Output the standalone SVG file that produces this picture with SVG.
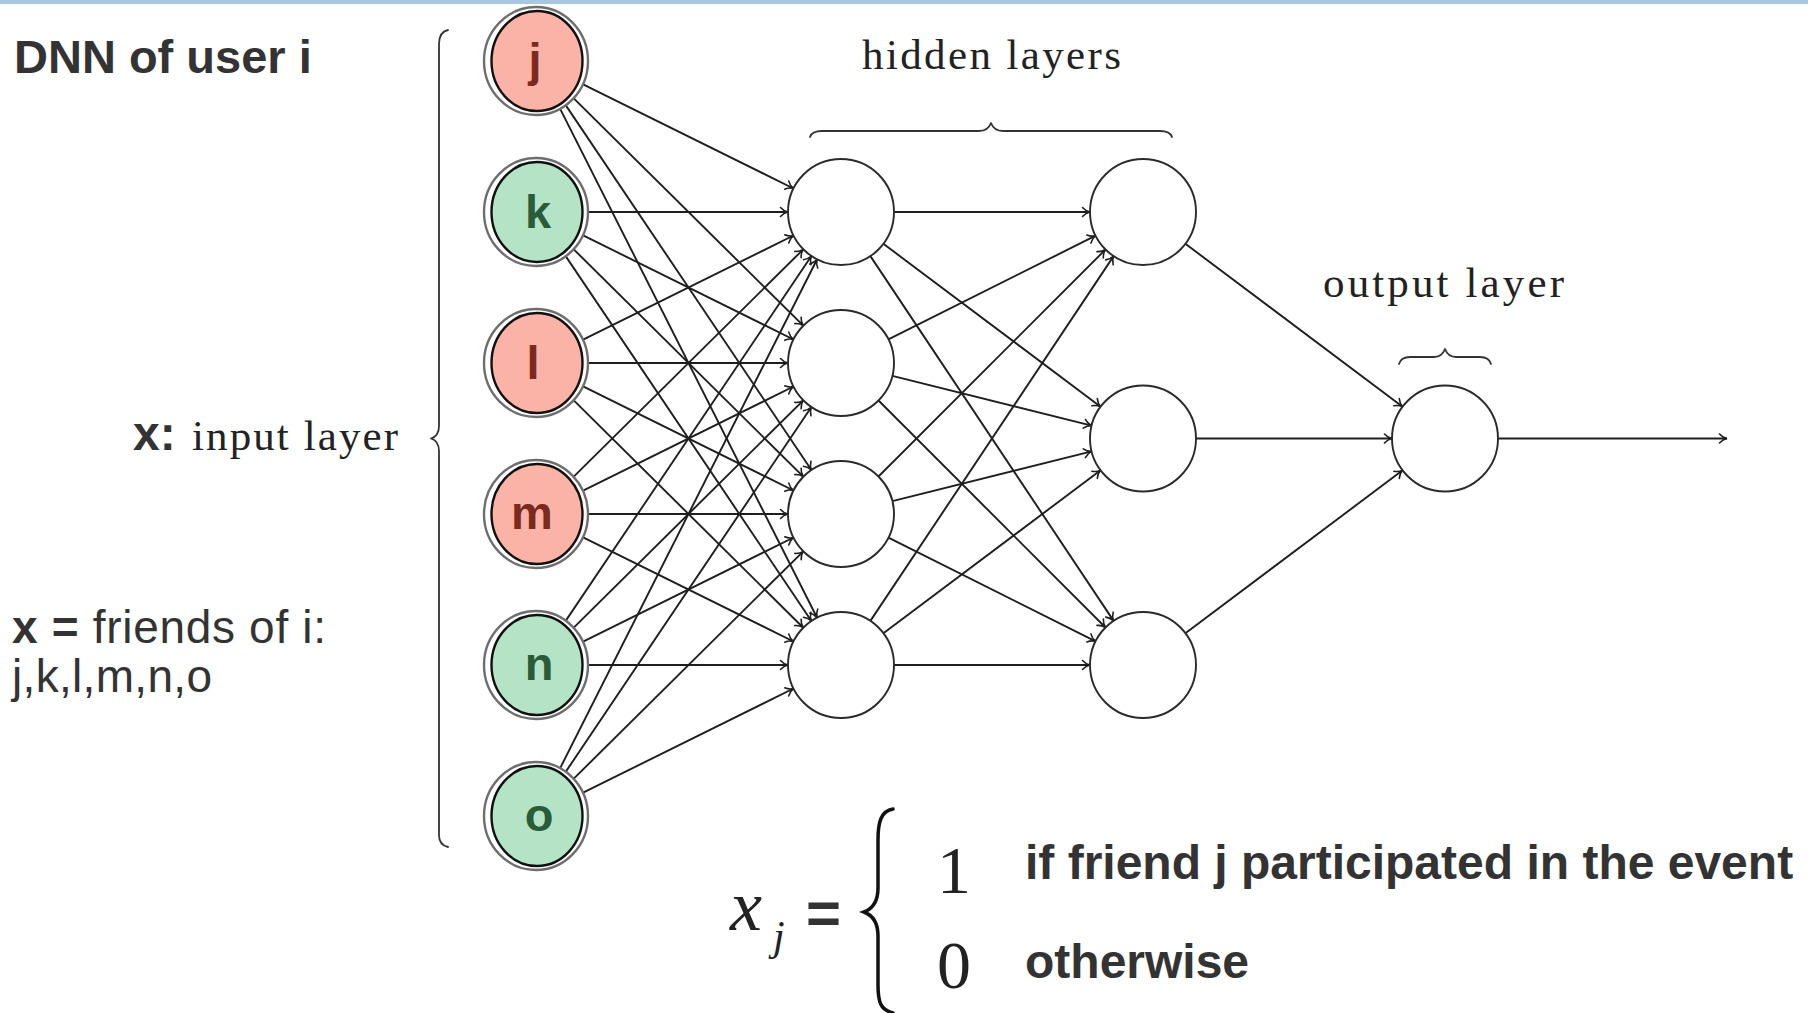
<svg xmlns="http://www.w3.org/2000/svg" width="1808" height="1013" viewBox="0 0 1808 1013">
  <defs>
    <style>
      .edge { fill: none; stroke: #1e1e1e; stroke-width: 1.9; marker-end: url(#to); }
      .hid { fill: #ffffff; stroke: #2a2a2a; stroke-width: 1.9; }
      .ring { fill: #ffffff; stroke: #6e6e6e; stroke-width: 2.4; }
      .red { fill: #fab3a6; stroke: #111111; stroke-width: 2.4; }
      .green { fill: #b4e4c5; stroke: #111111; stroke-width: 2.4; }
      .letter { font-family: "Liberation Sans", Arial, sans-serif; font-weight: bold; font-size: 47px; text-anchor: middle; }
      .lr { fill: #7a2a1f; }
      .lg { fill: #2b5c39; }
      .sans { font-family: "Liberation Sans", Arial, sans-serif; fill: #333333; }
      .serif { font-family: "Liberation Serif", "Times New Roman", serif; fill: #222222; }
      .brace { fill: none; stroke: #333333; stroke-width: 1.8; stroke-linecap: round; stroke-linejoin: round; }
    </style>
    <marker id="to" viewBox="-9 -6 11 12" refX="0" refY="0" markerWidth="11" markerHeight="12" markerUnits="userSpaceOnUse" orient="auto">
      <path d="M -7.5 -4.5 C -5 -1.6 -2 -0.4 0 0 C -2 0.4 -5 1.6 -7.5 4.5" fill="none" stroke="#1e1e1e" stroke-width="1.6" stroke-linecap="round"/>
    </marker>
  </defs>

  <rect width="1808" height="1013" fill="#ffffff"/>
  <!-- slide header rule -->
  <rect x="0" y="0" width="1808" height="4" fill="#a9c7e3"/>

  <!-- side labels -->
  <text class="sans" x="14" y="73" font-size="47" font-weight="bold">DNN of user i</text>
  <text x="133" y="450"><tspan class="sans" font-size="48" font-weight="bold">x:</tspan><tspan class="serif" x="192" font-size="43" textLength="206" lengthAdjust="spacing">input layer</tspan></text>
  <text class="sans" x="12" y="643" font-size="46" textLength="314" lengthAdjust="spacing"><tspan font-weight="bold">x =</tspan> friends of i:</text>
  <text class="sans" x="12" y="692" font-size="46" textLength="200" lengthAdjust="spacing">j,k,l,m,n,o</text>

  <!-- layer labels and braces -->
  <text class="serif" x="862" y="69" font-size="43" textLength="259" lengthAdjust="spacing">hidden layers</text>
  <text class="serif" x="1323" y="297" font-size="43" textLength="241" lengthAdjust="spacing">output layer</text>
  <path class="brace" d="M 448 30 Q 439 32 439 44 L 439 426 Q 439 436 431 438.5 Q 439 441 439 451 L 439 835 Q 439 845 448 847" stroke="#5a5a5a"/>
  <path class="brace" d="M 810 137 Q 812 131 822 131 L 979 131 Q 988 131 991 123 Q 994 131 1003 131 L 1160 131 Q 1170 131 1172 137"/>
  <path class="brace" d="M 1399 364 Q 1401 357 1410 357 L 1434 357 Q 1442 357 1445 349 Q 1448 357 1456 357 L 1480 357 Q 1489 357 1491 364"/>

  <!-- connectors -->
  <g id="connectors">
    <!-- input to hidden layer 1 -->
    <line class="edge" x1="582.6" y1="84.1" x2="793.5" y2="188.5"/>
    <line class="edge" x1="573" y1="97.6" x2="803.3" y2="325.7"/>
    <line class="edge" x1="565" y1="104.1" x2="811.4" y2="470"/>
    <line class="edge" x1="559.4" y1="107.4" x2="817.1" y2="617.7"/>

    <line class="edge" x1="588" y1="212" x2="788" y2="212"/>
    <line class="edge" x1="582.6" y1="235.1" x2="793.5" y2="339.5"/>
    <line class="edge" x1="573" y1="248.6" x2="803.3" y2="476.7"/>
    <line class="edge" x1="565" y1="255.1" x2="811.4" y2="621"/>

    <line class="edge" x1="582.6" y1="339.9" x2="793.5" y2="235.5"/>
    <line class="edge" x1="588" y1="363" x2="788" y2="363"/>
    <line class="edge" x1="582.6" y1="386.1" x2="793.5" y2="490.5"/>
    <line class="edge" x1="573" y1="399.6" x2="803.3" y2="627.7"/>

    <line class="edge" x1="573" y1="477.4" x2="803.3" y2="249.3"/>
    <line class="edge" x1="582.6" y1="490.9" x2="793.5" y2="386.5"/>
    <line class="edge" x1="588" y1="514" x2="788" y2="514"/>
    <line class="edge" x1="582.6" y1="537.1" x2="793.5" y2="641.5"/>

    <line class="edge" x1="565" y1="621.9" x2="811.4" y2="256"/>
    <line class="edge" x1="573" y1="628.4" x2="803.3" y2="400.3"/>
    <line class="edge" x1="582.6" y1="641.9" x2="793.5" y2="537.5"/>
    <line class="edge" x1="588" y1="665" x2="788" y2="665"/>

    <line class="edge" x1="559.4" y1="769.6" x2="817.1" y2="259.3"/>
    <line class="edge" x1="565" y1="772.9" x2="811.4" y2="407"/>
    <line class="edge" x1="573" y1="779.4" x2="803.3" y2="551.3"/>
    <line class="edge" x1="582.6" y1="792.9" x2="793.5" y2="688.5"/>

    <!-- hidden layer 1 to hidden layer 2 -->
    <line class="edge" x1="894" y1="212" x2="1090" y2="212"/>
    <line class="edge" x1="883.4" y1="243.8" x2="1100.6" y2="406.7"/>
    <line class="edge" x1="870.4" y1="256.1" x2="1113.6" y2="620.9"/>
    <line class="edge" x1="888.4" y1="339.3" x2="1095.6" y2="235.7"/>
    <line class="edge" x1="892.4" y1="375.85" x2="1091.6" y2="425.65"/>
    <line class="edge" x1="878.5" y1="400.5" x2="1105.5" y2="627.5"/>
    <line class="edge" x1="878.5" y1="476.5" x2="1105.5" y2="249.5"/>
    <line class="edge" x1="892.4" y1="501.15" x2="1091.6" y2="451.35"/>
    <line class="edge" x1="888.4" y1="537.7" x2="1095.6" y2="641.3"/>
    <line class="edge" x1="870.4" y1="620.9" x2="1113.6" y2="256.1"/>
    <line class="edge" x1="883.4" y1="633.2" x2="1100.6" y2="470.3"/>
    <line class="edge" x1="894" y1="665" x2="1090" y2="665"/>

    <!-- hidden layer 2 to output -->
    <line class="edge" x1="1185.4" y1="243.8" x2="1402.6" y2="406.7"/>
    <line class="edge" x1="1196" y1="438.5" x2="1392" y2="438.5"/>
    <line class="edge" x1="1185.4" y1="633.2" x2="1402.6" y2="470.3"/>

    <!-- output -->
    <line class="edge" x1="1498" y1="438.5" x2="1727" y2="438.5"/>
  </g>

  <!-- input layer -->
  <g id="in-j"><ellipse class="ring" cx="536" cy="61" rx="52" ry="54"/><ellipse class="red" cx="537" cy="61" rx="45.5" ry="50"/><text class="letter lr" x="535" y="76">j</text></g>
  <g id="in-k"><ellipse class="ring" cx="536" cy="212" rx="52" ry="54"/><ellipse class="green" cx="537" cy="212" rx="45.5" ry="50"/><text class="letter lg" x="538" y="228">k</text></g>
  <g id="in-l"><ellipse class="ring" cx="536" cy="363" rx="52" ry="54"/><ellipse class="red" cx="537" cy="363" rx="45.5" ry="50"/><text class="letter lr" x="533" y="379">l</text></g>
  <g id="in-m"><ellipse class="ring" cx="536" cy="514" rx="52" ry="54"/><ellipse class="red" cx="537" cy="514" rx="45.5" ry="50"/><text class="letter lr" x="532" y="529">m</text></g>
  <g id="in-n"><ellipse class="ring" cx="536" cy="665" rx="52" ry="54"/><ellipse class="green" cx="537" cy="665" rx="45.5" ry="50"/><text class="letter lg" x="539" y="680">n</text></g>
  <g id="in-o"><ellipse class="ring" cx="536" cy="816" rx="52" ry="54"/><ellipse class="green" cx="537" cy="816" rx="45.5" ry="50"/><text class="letter lg" x="539" y="831">o</text></g>

  <!-- hidden layer 1 -->
  <g id="h1-1"><circle class="hid" cx="841" cy="212" r="53"/></g>
  <g id="h1-2"><circle class="hid" cx="841" cy="363" r="53"/></g>
  <g id="h1-3"><circle class="hid" cx="841" cy="514" r="53"/></g>
  <g id="h1-4"><circle class="hid" cx="841" cy="665" r="53"/></g>

  <!-- hidden layer 2 -->
  <g id="h2-1"><circle class="hid" cx="1143" cy="212" r="53"/></g>
  <g id="h2-2"><circle class="hid" cx="1143" cy="438.5" r="53"/></g>
  <g id="h2-3"><circle class="hid" cx="1143" cy="665" r="53"/></g>

  <!-- output layer -->
  <g id="out"><circle class="hid" cx="1445" cy="438.5" r="53"/></g>

  <!-- input definition -->
  <g id="formula">
    <text class="serif" x="730" y="930" font-size="72" font-style="italic" fill="#111111">x</text>
    <text class="serif" x="773" y="950" font-size="42" font-style="italic" fill="#111111">j</text>
    <text class="sans" x="806" y="933" font-size="60" font-weight="bold" fill="#111111">=</text>
    <path d="M 893 809 C 881 811 878 822 878 840 L 878 888 C 878 902 872 909 864 912 C 872 915 878 922 878 936 L 878 985 C 878 1003 881 1010 893 1013" fill="none" stroke="#111111" stroke-width="3.5" stroke-linecap="round"/>
    <text class="serif" x="954" y="893" font-size="68" text-anchor="middle" fill="#111111">1</text>
    <text class="serif" x="954" y="988" font-size="68" text-anchor="middle" fill="#111111">0</text>
    <text class="sans" x="1025" y="879" font-size="48" font-weight="bold">if friend j participated in the event</text>
    <text class="sans" x="1025" y="978" font-size="48" font-weight="bold">otherwise</text>
  </g>
</svg>
